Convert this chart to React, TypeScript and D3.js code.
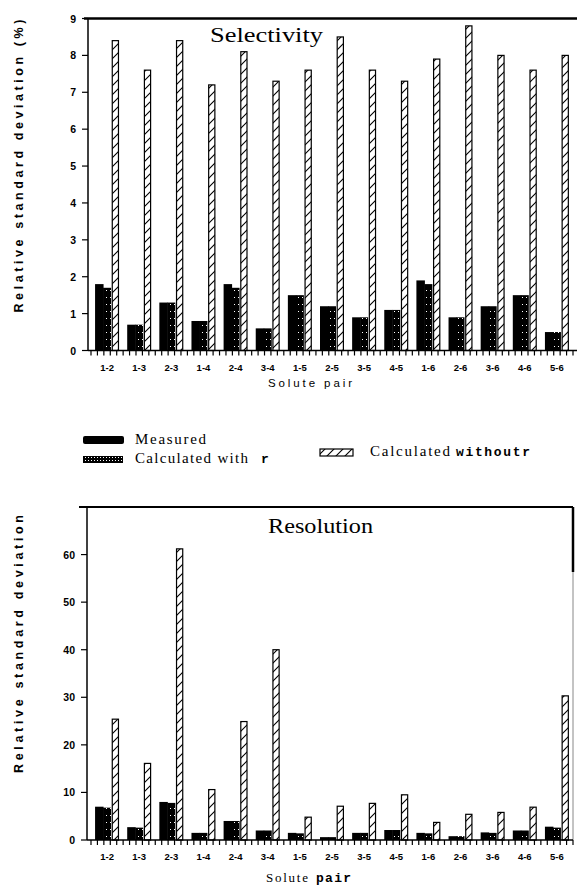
import React from "react";
import * as d3 from "d3";

const categories = ["1-2","1-3","2-3","1-4","2-4","3-4","1-5","2-5","3-5","4-5","1-6","2-6","3-6","4-6","5-6"];
const seriesKeys = ["measured", "withR", "withoutR"];

const selMeasured = [1.8, 0.7, 1.3, 0.8, 1.8, 0.6, 1.5, 1.2, 0.9, 1.1, 1.9, 0.9, 1.2, 1.5, 0.5];
const selWithR = [1.7, 0.7, 1.3, 0.8, 1.7, 0.6, 1.5, 1.2, 0.9, 1.1, 1.8, 0.9, 1.2, 1.5, 0.5];
const selWithoutR = [8.4, 7.6, 8.4, 7.2, 8.1, 7.3, 7.6, 8.5, 7.6, 7.3, 7.9, 8.8, 8.0, 7.6, 8.0];

const resMeasured = [7.0, 2.7, 8.0, 1.5, 4.0, 2.0, 1.5, 0.6, 1.5, 2.1, 1.5, 0.8, 1.6, 2.0, 2.8];
const resWithR = [6.8, 2.6, 7.8, 1.5, 4.0, 2.0, 1.4, 0.6, 1.5, 2.1, 1.4, 0.8, 1.5, 2.0, 2.6];
const resWithoutR = [25.4, 16.1, 61.2, 10.6, 24.9, 40.0, 4.8, 7.1, 7.7, 9.5, 3.7, 5.4, 5.8, 6.9, 30.3];

const selTicks = [0, 1, 2, 3, 4, 5, 6, 7, 8, 9];
const resTicks = [0, 10, 20, 30, 40, 50, 60, 70];
const resTickLabels = ["0", "10", "20", "30", "40", "50", "60", ""];

const sansBold = "'Liberation Sans', Arial, sans-serif";
const serif = "'Liberation Serif', 'Times New Roman', serif";

function Panel({ measured, withR, withoutR, domain, yRange, ticks, tickLabels, axisX, xRangeEnd, title, titleX, titleY, titleLen }) {
  const x = d3.scaleBand().domain(categories).range([91, 573]).padding(0);
  const inner = d3.scaleBand().domain(seriesKeys).range([-12, 12]);
  const y = d3.scaleLinear().domain(domain).range(yRange);
  const bw = inner.bandwidth();
  const y0 = y(0);
  const step = x.step();
  const minor = d3.range(0, categories.length * 5 + 1).map((k) => x.range()[0] + (k * step) / 5);
  return (
    <g>
      {categories.map((c, i) => {
        const cx = x(c) + x.bandwidth() / 2;
        return (
          <g key={c}>
            <rect x={cx + inner("measured")} y={y(measured[i])} width={bw + 0.5} height={y0 - y(measured[i])} fill="#000" />
            <rect x={cx + inner("withR")} y={y(withR[i])} width={bw} height={y0 - y(withR[i])} fill="url(#dotsBar)" />
            <rect x={cx + inner("withoutR") + 1.2} y={y(withoutR[i])} width={bw - 1.8} height={y0 - y(withoutR[i])} fill="url(#hatch)" stroke="#000" strokeWidth={1.2} />
            <text x={cx} y={y0 + 20} textAnchor="middle" fontFamily={sansBold} fontWeight="bold" fontSize={9.5}>{c}</text>
          </g>
        );
      })}
      <line x1={axisX} x2={axisX} y1={yRange[1]} y2={y0} stroke="#000" strokeWidth={1.5} />
      <line x1={axisX} x2={xRangeEnd} y1={y0} y2={y0} stroke="#000" strokeWidth={1.5} />
      {minor.map((mx, k) => (
        <line key={k} x1={mx} x2={mx} y1={y0} y2={y0 + 5} stroke="#000" strokeWidth={1.2} />
      ))}
      {ticks.map((t, i) => (
        <g key={t}>
          <line x1={axisX - 6} x2={axisX} y1={y(t)} y2={y(t)} stroke="#000" strokeWidth={1.2} />
          <text x={axisX - 12} y={y(t) + 4} textAnchor="end" fontFamily={sansBold} fontWeight="bold" fontSize={10.5}>{tickLabels ? tickLabels[i] : String(t)}</text>
        </g>
      ))}
      <text x={titleX} y={titleY} fontFamily={serif} fontSize={20} textLength={titleLen} lengthAdjust="spacingAndGlyphs">{title}</text>
    </g>
  );
}

export default function App() {
  return (
    <svg width={577} height={887} style={{ position: "absolute", left: 0, top: 0, background: "#fff" }}>
      <defs>
        <pattern id="hatch" patternUnits="userSpaceOnUse" width={9} height={9}>
          <rect width={9} height={9} fill="#fff" />
          <path d="M-2,2 L2,-2 M0,9 L9,0 M7,11 L11,7" stroke="#000" strokeWidth={1.1} />
        </pattern>
        <pattern id="dotsBar" patternUnits="userSpaceOnUse" width={4} height={7}>
          <rect width={4} height={7} fill="#000" />
          <rect x={2} y={3} width={1} height={1} fill="#fff" />
        </pattern>
        <pattern id="dotsLegend" patternUnits="userSpaceOnUse" width={3} height={3}>
          <rect width={3} height={3} fill="#000" />
          <rect x={1} y={1} width={1} height={1} fill="#fff" />
        </pattern>
      </defs>
      <rect width={577} height={887} fill="#fff" />

      {/* Top panel */}
      <line x1={84} x2={577} y1={18.5} y2={18.5} stroke="#000" strokeWidth={2.5} />
      <Panel
        measured={selMeasured} withR={selWithR} withoutR={selWithoutR}
        domain={[0, 9]} yRange={[350.5, 18.5]} ticks={selTicks}
        axisX={88} xRangeEnd={577}
        title="Selectivity" titleX={210} titleY={42} titleLen={113}
      />
      <text transform="translate(23,166) rotate(-90)" textAnchor="middle" fontFamily={sansBold} fontWeight="bold" fontSize={12.5} textLength={293} lengthAdjust="spacing">Relative standard deviation (%)</text>
      <text x={268} y={387} fontFamily={sansBold} fontSize={11.5} textLength={84} lengthAdjust="spacing">Solute pair</text>

      {/* Legend */}
      <rect x={83} y={436} width={41} height={8} rx={2} fill="#000" />
      <text x={135} y={444} fontFamily={serif} fontSize={15} textLength={71} lengthAdjust="spacing">Measured</text>
      <rect x={83} y={456} width={40} height={7} fill="url(#dotsLegend)" />
      <text x={135} y={463} fontFamily={serif} fontSize={15} textLength={113} lengthAdjust="spacing">Calculated  with</text>
      <text x={261} y={463} fontFamily="'Liberation Mono', monospace" fontWeight="bold" fontSize={13}>r</text>
      <rect x={320} y={449} width={33} height={7} fill="url(#hatch)" stroke="#000" strokeWidth={1.2} />
      <text x={370} y={456} fontFamily={serif} fontSize={15} textLength={80} lengthAdjust="spacing">Calculated</text>
      <text x={456} y={456} fontFamily="'Liberation Mono', monospace" fontWeight="bold" fontSize={13} textLength={74} lengthAdjust="spacing">withoutr</text>

      {/* Bottom panel */}
      <line x1={79} x2={573} y1={507} y2={507} stroke="#000" strokeWidth={2.2} />
      <line x1={573} x2={573} y1={507} y2={572} stroke="#000" strokeWidth={2.5} />
      <line x1={573} x2={573} y1={572} y2={840} stroke="#888" strokeWidth={1} />
      <Panel
        measured={resMeasured} withR={resWithR} withoutR={resWithoutR}
        domain={[0, 70]} yRange={[840, 507]} ticks={resTicks} tickLabels={resTickLabels}
        axisX={87} xRangeEnd={573}
        title="Resolution" titleX={268} titleY={533} titleLen={105}
      />
      <text transform="translate(23,644) rotate(-90)" textAnchor="middle" fontFamily={sansBold} fontWeight="bold" fontSize={12.5} textLength={258} lengthAdjust="spacing">Relative standard deviation</text>
      <text x={266} y={882} fontFamily={serif} fontSize={13} textLength={42} lengthAdjust="spacing">Solute</text>
      <text x={316} y={882} fontFamily="'Liberation Mono', monospace" fontWeight="bold" fontSize={13} textLength={35} lengthAdjust="spacing">pair</text>
    </svg>
  );
}
